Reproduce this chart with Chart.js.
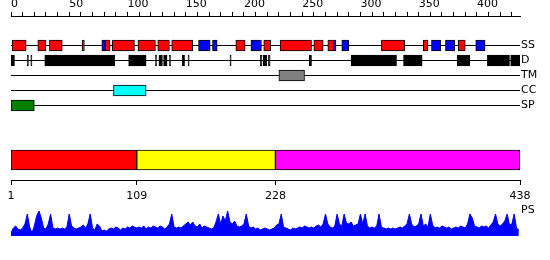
<!DOCTYPE html>
<html><head><meta charset="utf-8">
<script src="https://cdn.jsdelivr.net/npm/chart.js@4"></script>
<style>
body{margin:0;background:#fff;width:550px;height:260px;overflow:hidden;position:relative}
canvas{position:absolute;left:0}
</style>
</head><body>
<canvas id="ruler" width="550" height="24" style="top:0px"></canvas>
<canvas id="tracks" width="550" height="75" style="top:38px"></canvas>
<canvas id="domains" width="550" height="64" style="top:140px"></canvas>
<canvas id="ps" width="550" height="40" style="top:198px"></canvas>
<script>
// ---- data ----
const trackNames = ['SS','D','TM','CC','SP'];
const ssHelix = [[1,13],[23,30],[33,44],[61,63],[81,85],[87,106],[109,124],[126,136],[138,156],[193,201],[217,223],[231,258],[260,268],[272,277],[318,338],[354,358],[384,390]];
const ssStrand = [[78,81],[161,171],[173,177],[206,215],[277,279],[284,290],[361,369],[373,381],[399,407]];
const disorder = [[0,3],[14,15],[17,18],[29,89],[101,116],[124,125],[127,130],[131,134],[136,137],[147,149],[152,153],[188,189],[214,215.5],[216.5,219.5],[221,222.5],[256,258],[292,331],[337,353],[383,394],[409,428],[429,437]];
const transmem = [[230,252]];
const coiledCoil = [[88,116]];
const signalPep = [[0,20]];
const domainStarts = [1,109,228];
const domainEnds = [109,228,438];
const bottomTicks = [1,109,228,438];
const psValues = [
3,8,10,7,6,8,12,22,9,3,
10,20,25,18,8,7,12,22,8,7,
8,7,8,7,9,22,10,8,7,8,
9,11,8,12,22,8,6,12,10,5,
6,5,7,8,7,9,8,6,8,7,
9,8,10,9,8,9,8,10,7,9,
8,10,9,8,10,9,7,9,12,22,
9,8,9,8,10,12,14,11,14,10,
9,12,8,10,9,8,7,8,14,22,
12,20,15,25,14,12,15,10,9,10,
12,22,10,8,9,7,8,6,7,8,
7,6,7,8,11,12,22,9,8,7,
6,8,7,8,9,8,10,9,8,9,
8,10,11,9,12,22,12,9,8,10,
22,12,10,22,13,12,14,10,11,12,
22,12,22,10,8,9,8,10,22,9,
8,7,8,7,8,7,8,9,8,10,
12,22,12,9,10,12,22,10,12,9,
22,11,8,9,8,10,9,8,9,7,
8,9,8,10,9,8,12,22,18,10,
9,8,10,9,10,8,11,14,22,12,
10,12,15,22,11,12,22,8,6
];

// ---- styles ----
const domainColors = ['#ff0000','#ffff00','#ff00ff'];
Chart.defaults.font.family = "'DejaVu Sans', sans-serif";
Chart.defaults.font.size = 11;
Chart.defaults.color = '#000';
const base = {responsive:false, animation:false, events:[], devicePixelRatio:1,
  plugins:{legend:{display:false}, tooltip:{enabled:false}}};
const noVPad = (s) => { s.paddingTop = 0; s.paddingBottom = 0; };

// ruler
new Chart(document.getElementById('ruler'), {
  type:'scatter',
  data:{datasets:[{data:[]}]},
  options:Object.assign({}, base, {
    layout:{padding:{left:11,right:30,top:0,bottom:0}},
    scales:{
      x:{type:'linear', position:'top', min:0, max:437,
        afterFit(s){ s.height = 16; s.paddingLeft = 0; s.paddingRight = 0; },
        border:{display:true, color:'#000', width:1},
        grid:{drawOnChartArea:false, drawTicks:true, tickLength:4, tickColor:'#000', lineWidth:1},
        ticks:{stepSize:10, autoSkip:false, maxTicksLimit:1000, includeBounds:false, maxRotation:0,
          align:'start', padding:1, color:'#000',
          callback:(v)=> (v % 50 === 0 ? String(v) : '')}},
      y:{display:false}
    }
  })
});

// tracks
const mk = (arr, row) => arr.map(([s,e]) => ({x:[s,e], y:row}));
const barStyle = {borderColor:'#000', borderWidth:1, borderSkipped:false, barThickness:11, grouped:false};
new Chart(document.getElementById('tracks'), {
  type:'bar',
  data:{labels:trackNames, datasets:[
    Object.assign({data:mk(ssHelix,'SS'), backgroundColor:'#ff0000'}, barStyle),
    Object.assign({data:mk(ssStrand,'SS'), backgroundColor:'#0000ff'}, barStyle),
    Object.assign({data:mk(disorder,'D'), backgroundColor:'#000000'}, barStyle),
    Object.assign({data:mk(transmem,'TM'), backgroundColor:'#808080'}, barStyle),
    Object.assign({data:mk(coiledCoil,'CC'), backgroundColor:'#00ffff'}, barStyle),
    Object.assign({data:mk(signalPep,'SP'), backgroundColor:'#008000'}, barStyle)
  ]},
  options:Object.assign({}, base, {
    indexAxis:'y',
    layout:{padding:{left:11,right:0,top:0,bottom:0}},
    scales:{
      x:{type:'linear', min:0, max:437, display:false},
      y:{type:'category', position:'right',
        afterFit(s){ s.width = 30; noVPad(s); },
        grid:{offset:false, color:'#000', lineWidth:1, drawTicks:false},
        border:{display:false},
        ticks:{padding:1, color:'#000', autoSkip:false}}
    }
  })
});

// domains
new Chart(document.getElementById('domains'), {
  type:'bar',
  data:{labels:['dom'], datasets:[{
    data: domainStarts.map((s,i)=>({x:[s, domainEnds[i]], y:'dom'})),
    backgroundColor: domainColors, borderColor:'#000', borderWidth:1, borderSkipped:false, barThickness:20
  }]},
  options:Object.assign({}, base, {
    indexAxis:'y',
    layout:{padding:{left:11,right:30,top:0,bottom:0}},
    scales:{
      x:{type:'linear', position:'bottom', min:1, max:438,
        afterFit(s){ s.height = 24; s.paddingLeft = 0; s.paddingRight = 0; },
        afterBuildTicks(s){ s.ticks = bottomTicks.map(v=>({value:v})); },
        border:{display:true, color:'#000', width:1},
        grid:{drawOnChartArea:false, drawTicks:true, tickLength:5, tickColor:'#000'},
        ticks:{autoSkip:false, maxRotation:0, padding:5, color:'#000', callback:(v)=>String(v)}},
      y:{display:false}
    }
  })
});

// PS
new Chart(document.getElementById('ps'), {
  type:'line',
  data:{datasets:[{
    data: psValues.map((v,i)=>({x:1+2*i, y:v})),
    borderColor:'#0000ff', backgroundColor:'#0000ff', fill:'origin',
    pointRadius:0, borderWidth:1, tension:0
  }]},
  options:Object.assign({}, base, {
    layout:{padding:{left:11,right:0,top:12,bottom:2}},
    scales:{
      x:{type:'linear', min:1, max:438, display:false},
      y:{type:'linear', min:0, max:26, position:'right',
        afterFit(s){ s.width = 30; noVPad(s); },
        afterBuildTicks(s){ s.ticks = [{value:26}]; },
        grid:{display:false, drawTicks:false}, border:{display:false},
        ticks:{padding:1, color:'#000', callback:()=> 'PS'}}
    }
  })
});
</script>
</body></html>
